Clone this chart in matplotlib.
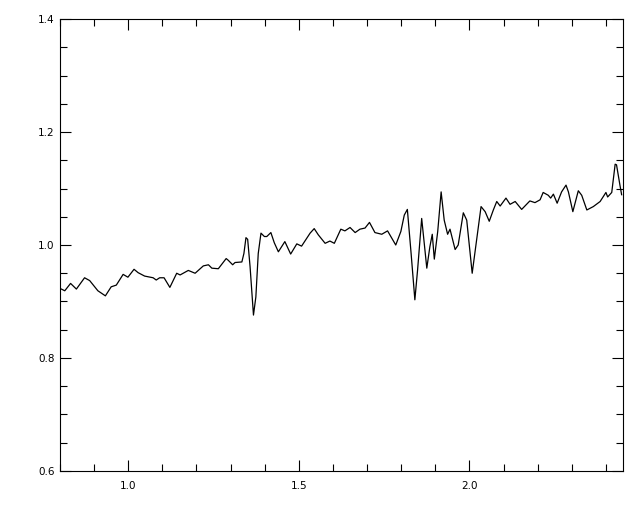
import matplotlib
matplotlib.use('Agg')
import matplotlib.pyplot as plt
from matplotlib.ticker import MultipleLocator, FormatStrFormatter

# spectrum
wavelength = [0.804, 0.814, 0.831, 0.848, 0.872, 0.887, 0.911, 0.933, 0.950, 0.965,
              0.985, 0.999, 1.017, 1.029, 1.048, 1.073, 1.082, 1.092, 1.105, 1.114,
              1.122, 1.142, 1.152, 1.176, 1.196, 1.220, 1.235, 1.245, 1.264, 1.287,
              1.293, 1.306, 1.313, 1.333, 1.339, 1.345, 1.350, 1.357, 1.367, 1.374,
              1.381, 1.389, 1.399, 1.406, 1.418, 1.428, 1.440, 1.459, 1.476, 1.494,
              1.508, 1.533, 1.545, 1.557, 1.577, 1.591, 1.604, 1.623, 1.635, 1.650,
              1.665, 1.679, 1.694, 1.707, 1.723, 1.743, 1.760, 1.784, 1.799, 1.809,
              1.818, 1.829, 1.840, 1.848, 1.860, 1.875, 1.884, 1.891, 1.897, 1.907,
              1.917, 1.926, 1.936, 1.943, 1.958, 1.967, 1.982, 1.992, 2.008, 2.021,
              2.034, 2.046, 2.058, 2.070, 2.080, 2.090, 2.107, 2.119, 2.134, 2.153,
              2.177, 2.192, 2.207, 2.216, 2.231, 2.238, 2.246, 2.257, 2.270, 2.283,
              2.290, 2.303, 2.319, 2.329, 2.344, 2.363, 2.383, 2.400, 2.405, 2.417,
              2.427, 2.431, 2.441, 2.446]
flux = [0.922, 0.919, 0.932, 0.922, 0.942, 0.937, 0.919, 0.910, 0.926, 0.929,
        0.948, 0.943, 0.957, 0.951, 0.945, 0.942, 0.938, 0.942, 0.942, 0.933,
        0.925, 0.950, 0.947, 0.955, 0.950, 0.963, 0.965, 0.959, 0.958, 0.976,
        0.973, 0.965, 0.969, 0.970, 0.985, 1.013, 1.010, 0.962, 0.876, 0.908,
        0.985, 1.021, 1.015, 1.015, 1.022, 1.004, 0.988, 1.006, 0.984, 1.002,
        0.998, 1.021, 1.029, 1.018, 1.003, 1.007, 1.003, 1.028, 1.025, 1.031,
        1.022, 1.028, 1.030, 1.040, 1.022, 1.019, 1.025, 1.000, 1.024, 1.053,
        1.063, 0.985, 0.903, 0.956, 1.047, 0.959, 0.997, 1.019, 0.975, 1.024,
        1.094, 1.044, 1.019, 1.028, 0.992, 1.000, 1.057, 1.044, 0.950, 1.009,
        1.068, 1.059, 1.042, 1.062, 1.077, 1.069, 1.083, 1.072, 1.077, 1.063,
        1.078, 1.075, 1.080, 1.093, 1.088, 1.083, 1.090, 1.074, 1.094, 1.106,
        1.094, 1.059, 1.096, 1.088, 1.062, 1.068, 1.077, 1.093, 1.085, 1.093,
        1.143, 1.142, 1.106, 1.089]


def main():
    plt.rcParams['font.family'] = 'DejaVu Sans'
    fig = plt.figure(figsize=(6.4, 5.12), dpi=100)
    ax = fig.add_axes([60 / 640, 41 / 512, 563 / 640, 452 / 512])

    ax.plot(wavelength, flux, color='black', linewidth=0.9)

    ax.set_xlim(0.8, 2.45)
    ax.set_ylim(0.6, 1.4)

    ax.xaxis.set_major_locator(MultipleLocator(0.5))
    ax.xaxis.set_minor_locator(MultipleLocator(0.1))
    ax.yaxis.set_major_locator(MultipleLocator(0.2))
    ax.yaxis.set_minor_locator(MultipleLocator(0.05))
    ax.xaxis.set_major_formatter(FormatStrFormatter('%.1f'))
    ax.yaxis.set_major_formatter(FormatStrFormatter('%.1f'))

    ax.tick_params(which='both', direction='in', top=True, right=True,
                   width=0.8, labelsize=7.5, colors='black')
    ax.tick_params(which='major', length=8)
    ax.tick_params(which='minor', length=4.8)
    ax.tick_params(axis='x', pad=7)
    ax.tick_params(axis='y', pad=4)

    for s in ax.spines.values():
        s.set_linewidth(0.8)

    fig.savefig('out.png', dpi=100)
    plt.close(fig)


if __name__ == '__main__':
    main()
